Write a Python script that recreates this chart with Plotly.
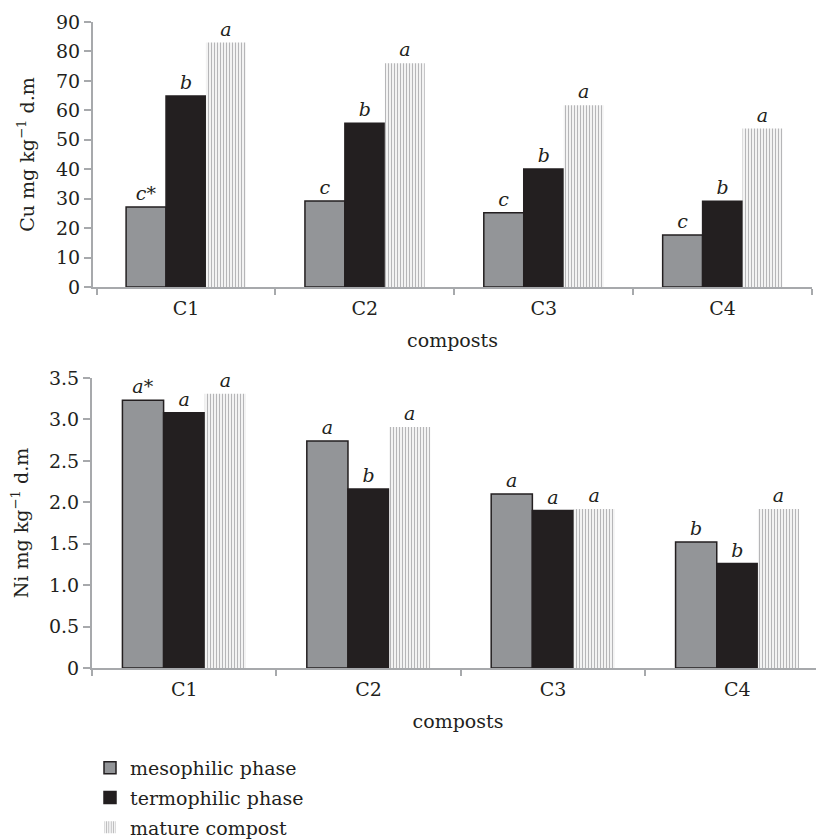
import plotly.graph_objects as go

categories = ["C1", "C2", "C3", "C4"]
series_names = ["mesophilic phase", "termophilic phase", "mature compost"]

cu_meso = [27.2, 29.2, 25.2, 17.7]
cu_termo = [64.9, 55.6, 40.1, 29.1]
cu_mature = [83.0, 76.0, 61.7, 53.8]
cu_letters_meso = ["c*", "c", "c", "c"]
cu_letters_termo = ["b", "b", "b", "b"]
cu_letters_mature = ["a", "a", "a", "a"]

ni_meso = [3.23, 2.74, 2.10, 1.52]
ni_termo = [3.08, 2.16, 1.90, 1.26]
ni_mature = [3.31, 2.91, 1.92, 1.92]
ni_letters_meso = ["a*", "a", "a", "b"]
ni_letters_termo = ["a", "b", "a", "b"]
ni_letters_mature = ["a", "a", "a", "a"]

cu_tickvals = [0, 10, 20, 30, 40, 50, 60, 70, 80, 90]
cu_ticktext = ["0", "10", "20", "30", "40", "50", "60", "70", "80", "90"]
ni_tickvals = [0, 0.5, 1.0, 1.5, 2.0, 2.5, 3.0, 3.5]
ni_ticktext = ["0", "0.5", "1.0", "1.5", "2.0", "2.5", "3.0", "3.5"]

# page has an 8px body margin, so the figure is 816x832 and offset by 8px
W, H = 816, 832
FONT = "DejaVu Serif"
FS = 19
TXT = "#231f20"
AX = "#a7a9ac"
GRAY = "#939598"
BLACK = "#231f20"
PAT = "#6d6e71"

styles = [
    dict(color=GRAY, line=dict(color=BLACK, width=1.5)),
    dict(color=BLACK, line=dict(color=BLACK, width=1.5)),
    dict(color="white", line=dict(color="white", width=0),
         pattern=dict(shape="|", fgcolor=PAT, bgcolor="white", size=3, solidity=0.45, fillmode="overlay")),
]

fig = go.Figure()

def add_set(vals_list, letters_list, xa, ya, show):
    for i, (vals, letters) in enumerate(zip(vals_list, letters_list)):
        fig.add_trace(go.Bar(
            x=categories, y=vals, name=series_names[i],
            marker=styles[i], xaxis=xa, yaxis=ya,
            text=letters, textposition="outside", constraintext="none",
            cliponaxis=False,
            textfont=dict(family=FONT, size=FS, color=TXT, style="italic"),
            showlegend=show, legendgroup=series_names[i],
        ))

add_set([cu_meso, cu_termo, cu_mature],
        [cu_letters_meso, cu_letters_termo, cu_letters_mature], "x", "y", True)
add_set([ni_meso, ni_termo, ni_mature],
        [ni_letters_meso, ni_letters_termo, ni_letters_mature], "x2", "y2", False)

xcommon = dict(
    type="category", showline=True, linecolor=AX, linewidth=2,
    ticks="outside", tickson="boundaries", ticklen=6, tickcolor=AX, tickwidth=2,
    showgrid=False, zeroline=False, ticklabelstandoff=3,
    tickfont=dict(family=FONT, size=FS, color=TXT),
    title=dict(text="composts", font=dict(family=FONT, size=FS, color=TXT), standoff=16),
)
ycommon = dict(
    showline=True, linecolor=AX, linewidth=2,
    ticks="outside", ticklen=7, tickcolor=AX, tickwidth=2,
    showgrid=False, zeroline=False,
    tickfont=dict(family=FONT, size=FS, color=TXT),
)

fig.update_layout(
    width=W, height=H,
    margin=dict(l=0, r=0, t=0, b=0, autoexpand=False),
    paper_bgcolor="white", plot_bgcolor="white",
    barmode="group", bargap=0.33, bargroupgap=0,
    font=dict(family=FONT, size=FS, color=TXT),
    xaxis=dict(**xcommon, domain=[85 / W, 804 / W], range=[-0.52, 3.5], anchor="y"),
    yaxis=dict(**ycommon, domain=[1 - 279 / H, 1 - 14 / H], range=[0, 90],
               tickvals=cu_tickvals, ticktext=cu_ticktext, anchor="x",
               title=dict(text="Cu mg kg<sup>−1</sup> d.m", font=dict(family=FONT, size=FS, color=TXT), standoff=16)),
    xaxis2=dict(**xcommon, domain=[84 / W, 1.0], range=[-0.5, 3.47], anchor="y2"),
    yaxis2=dict(**ycommon, domain=[1 - 660 / H, 1 - 370 / H], range=[0, 3.5],
                tickvals=ni_tickvals, ticktext=ni_ticktext, anchor="x2",
                title=dict(text="Ni mg kg<sup>−1</sup> d.m", font=dict(family=FONT, size=FS, color=TXT), standoff=16)),
    legend=dict(x=82 / W, y=1 - 741 / H, xanchor="left", yanchor="top",
                font=dict(family=FONT, size=FS, color=TXT),
                traceorder="grouped", tracegroupgap=2, bgcolor="rgba(0,0,0,0)"),
)

fig.write_html("out.html")
